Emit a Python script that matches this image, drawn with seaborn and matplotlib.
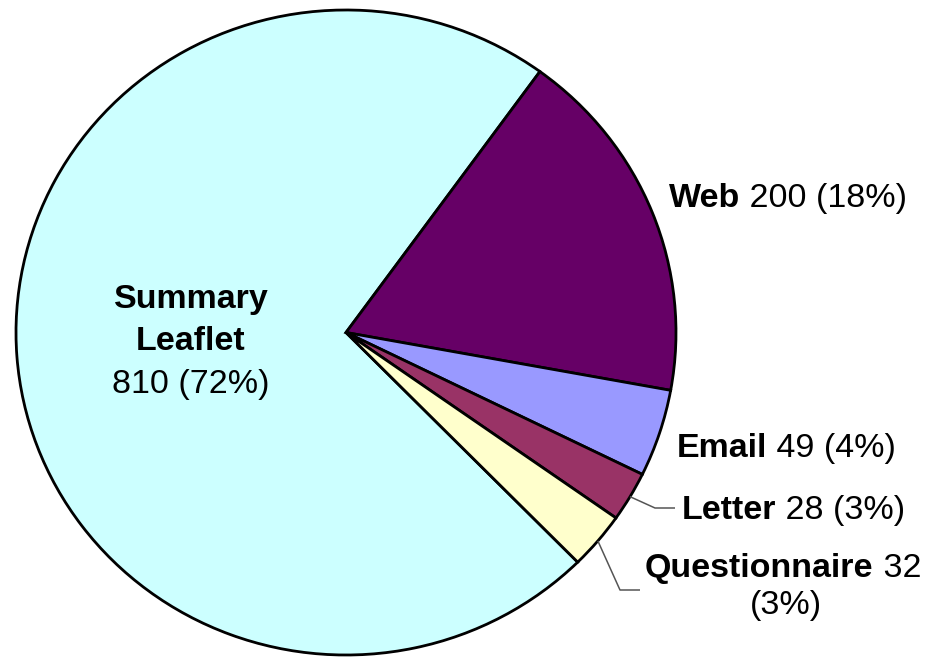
import numpy as np
import matplotlib
matplotlib.use('Agg')
import matplotlib.pyplot as plt
import seaborn as sns

categories = ["Summary Leaflet", "Web", "Email", "Letter", "Questionnaire"]
counts = [810, 200, 49, 28, 32]
colors = ["#CCFFFF", "#660066", "#9999FF", "#993366", "#FFFFCC"]

sns.set_theme(style="white")
plt.rcParams['font.family'] = ['Liberation Sans', 'DejaVu Sans']

W, H = 935, 657
fig = plt.figure(figsize=(W / 100, H / 100), dpi=100)
ax = fig.add_axes([0, 0, 1, 1])
CX, CY, RX, RY = 346, 332.5, 330, 322.5


def P(x, y):
    return ((x - CX) / RX, (CY - y) / RY)


wedges, _ = ax.pie(counts, colors=colors, startangle=314.6, counterclock=False,
                   wedgeprops=dict(edgecolor='black', linewidth=2.0),
                   radius=1, center=(0, 0))
ax.set_aspect('auto')
ax.set_xlim(-CX / RX, (W - CX) / RX)
ax.set_ylim(-(H - CY) / RY, CY / RY)
ax.axis('off')

total = sum(counts)
pct = [int(round(100 * c / total)) for c in counts]
FS = 24.5


def mixed(bold, rest, x, y):
    t = ax.text(*P(x, y), bold, fontweight='bold', fontsize=FS,
                ha='left', va='baseline', color='black')
    ax.annotate(rest, xy=(1, 0), xycoords=t, xytext=(0, 0),
                textcoords='offset points', ha='left', va='bottom',
                fontsize=FS, color='black')


# Summary Leaflet (inside)
ax.text(*P(191, 308), "Summary", fontweight='bold', fontsize=FS,
        ha='center', va='baseline', color='black')
ax.text(*P(191, 350), "Leaflet", fontweight='bold', fontsize=FS,
        ha='center', va='baseline', color='black')
ax.text(*P(191, 393), f"{counts[0]} ({pct[0]}%)", fontsize=FS,
        ha='center', va='baseline', color='black')

mixed(categories[1], f" {counts[1]} ({pct[1]}%)", 669, 207)
mixed(categories[2], f" {counts[2]} ({pct[2]}%)", 677, 457)
mixed(categories[3], f" {counts[3]} ({pct[3]}%)", 682, 519)
mixed(categories[4], f" {counts[4]}", 645, 577)
ax.text(*P(786, 614), f"({pct[4]}%)", fontsize=FS,
        ha='center', va='baseline', color='black')

# leader lines
for idx, elbow, end in [(3, (655, 508), (675, 508)), (4, (620, 590), (640, 590))]:
    w = wedges[idx]
    mid = np.deg2rad((w.theta1 + w.theta2) / 2)
    sx, sy = np.cos(mid), np.sin(mid)
    ex, ey = P(*elbow)
    fx, fy = P(*end)
    ax.plot([sx, ex, fx], [sy, ey, fy], color='#555555', lw=1.1,
            solid_capstyle='butt')

fig.savefig('out.png', dpi=100)
